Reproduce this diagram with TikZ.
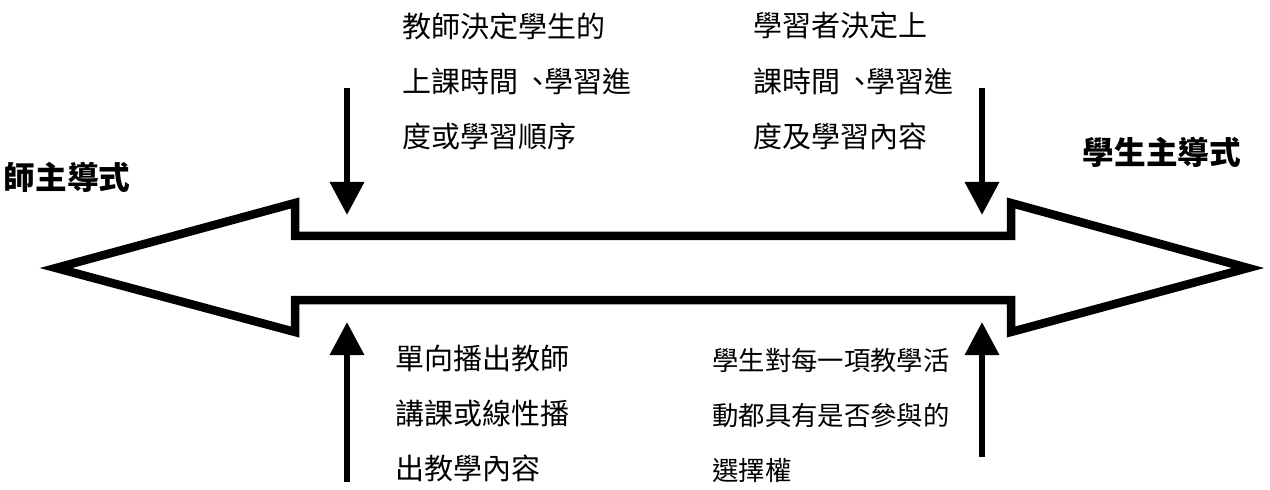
\documentclass[tikz,border=0pt]{standalone}
\usepackage{fontspec}
\usepackage{xcolor}
\usepackage{tikz}
\usetikzlibrary{arrows.meta}
\newfontfamily\cjk{Noto Sans CJK TC}
\definecolor{inkblack}{HTML}{000000}
\newcommand{\dunhao}{\kern0.17em、\kern-0.28em}
\tikzset{
  desc/.style={anchor=west, align=left, inner sep=0pt, font=\cjk\fontsize{16.5}{31.3}\selectfont},
  smalldesc/.style={desc, font=\cjk\fontsize{15}{31.3}\selectfont},
  modetitle/.style={inner sep=0pt, font=\cjk\bfseries\fontsize{18}{20}\selectfont},
  pointer/.style={->, line width=0.13cm, inkblack},
}

\begin{document}
\begin{tikzpicture}[>={Triangle[width=0.66cm,length=0.66cm]}]
  \useasboundingbox (0,0) rectangle (25.4,9.78);
  \draw[line width=0.17cm, inkblack] (1.12,4.42) -- (5.9,5.72) -- (5.9,5.06) -- (20.22,5.06)
    -- (20.22,5.72) -- (24.96,4.42) -- (20.22,3.14) -- (20.22,3.78) -- (5.9,3.78) -- (5.9,3.14) -- cycle;
  \node[modetitle] (teacher) at (1.34,6.24) {師主導式};
  \node[modetitle] (student) at (23.24,6.74) {學生主導式};
  \node[desc] (tdecide) at (8.04,8.16) {教師決定學生的\\上課時間\dunhao 學習進\\度或學習順序};
  \node[desc] (sdecide) at (15.06,8.16) {學習者決定上\\課時間\dunhao 學習進\\度及學習內容};
  \node[desc] (tlinear) at (7.9,1.52) {單向播出教師\\講課或線性播\\出教學內容};
  \node[smalldesc] (schoice) at (14.24,1.48) {學生對每一項教學活\\動都具有是否參與的\\選擇權};
  \coordinate (ldtop) at (6.94,8.02);
  \coordinate (ldtip) at (6.94,5.48);
  \coordinate (rdtop) at (19.64,8.02);
  \coordinate (rdtip) at (19.64,5.48);
  \coordinate (lubot) at (6.94,0.14);
  \coordinate (lutip) at (6.94,3.34);
  \coordinate (rubot) at (19.64,0.64);
  \coordinate (rutip) at (19.64,3.34);
  \draw[pointer] (ldtop) -- (ldtip);
  \draw[pointer] (rdtop) -- (rdtip);
  \draw[pointer] (lubot) -- (lutip);
  \draw[pointer] (rubot) -- (rutip);
\end{tikzpicture}
\end{document}
